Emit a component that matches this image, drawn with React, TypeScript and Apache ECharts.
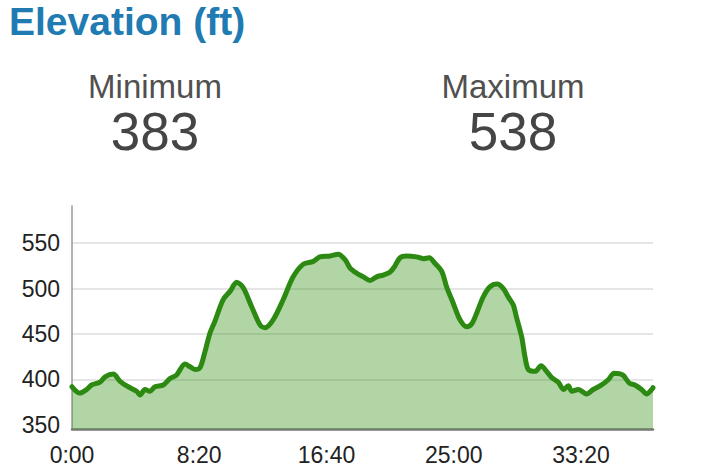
import React, { useEffect, useRef } from "react";
import * as echarts from "echarts";

const times = [0,31,58,77,110,130,162,189,221,254,267,287,306,326,359,385,411,444,464,483,503,520,542,560,594,621,647,673,706,739,758,791,830,869,909,948,974,1014,1046,1073,1092,1119,1145,1171,1197,1223,1249,1269,1289,1315,1354,1380,1404,1426,1453,1472,1498,1524,1551,1570,1590,1616,1642,1671,1695,1714,1734,1747,1767,1780,1793,1820,1843,1865,1885,1911,1931,1950,1964,1990,2022,2048,2081,2108,2130,2164,2190,2212,2238,2258,2278,2283];
const elevations = [392,385,389,394,397,403,406,398,392,387,383,389,387,392,394,401,405,417,414,411,413,428,451,463,488,497,507,501,480,460,457,466,488,513,527,530,535,536,538,532,523,517,513,509,513,515,518,525,534,536,535,533,534,528,519,502,484,466,458,461,473,491,502,505,500,491,482,468,447,425,411,409,415,409,402,397,389,393,387,389,384,389,394,400,407,405,396,394,389,384,389,391];
const yTicks = [350, 400, 450, 500, 550];
const xTickStep = 500;
const title = "Elevation (ft)";
const stats = [
  { label: "Minimum", value: "383" },
  { label: "Maximum", value: "538" },
];

function fmtTime(s: number) {
  const m = Math.floor(s / 60);
  const sec = Math.round(s % 60);
  return m + ":" + (sec < 10 ? "0" : "") + sec;
}

export default function App() {
  const ref = useRef<HTMLDivElement>(null);
  useEffect(() => {
    document.body.style.margin = "0";
    const chart = echarts.init(ref.current!, null, { renderer: "svg" });
    const font = "'Liberation Sans', Arial, Helvetica, sans-serif";
    const statX = [155, 513];
    chart.setOption({
      animation: false,
      graphic: [
        {
          type: "text",
          x: 9,
          y: 21,
          style: {
            text: title,
            fill: "#1f7bb1",
            font: "bold 39px " + font,
            align: "left",
            verticalAlign: "middle",
          },
        },
        ...stats.flatMap((s, i) => [
          {
            type: "text",
            x: statX[i],
            y: 86,
            style: {
              text: s.label,
              fill: "#505050",
              font: "33px " + font,
              align: "center",
              verticalAlign: "middle",
            },
          },
          {
            type: "text",
            x: statX[i],
            y: 131,
            style: {
              text: s.value,
              fill: "#454545",
              font: "53px " + font,
              align: "center",
              verticalAlign: "middle",
            },
          },
        ]),
      ],
      grid: { left: 72, right: 62, top: 206, bottom: 40, containLabel: false },
      xAxis: {
        type: "value",
        min: 0,
        max: 2283,
        interval: xTickStep,
        axisLine: { show: true, onZero: false, lineStyle: { color: "#777777", width: 2.5 } },
        axisTick: { show: false },
        splitLine: { show: false },
        axisLabel: {
          showMaxLabel: false,
          margin: 14,
          color: "#222222",
          fontSize: 23,
          fontFamily: font,
          formatter: (v: number) => (v % xTickStep === 0 ? fmtTime(v) : ""),
        },
      },
      yAxis: {
        type: "value",
        min: 345.5,
        max: 591,
        splitNumber: 5,
        minInterval: 50,
        maxInterval: 50,
        axisLine: { show: true, lineStyle: { color: "#999999", width: 1.5 } },
        axisTick: { show: false },
        splitLine: {
          show: true,
          showMinLine: false,
          showMaxLine: false,
          lineStyle: {
            color: ["rgba(0,0,0,0)", "#dddddd", "#dddddd", "#dddddd", "#dddddd", "#dddddd"],
            width: 1.5,
          },
        },
        axisLabel: {
          showMinLabel: false,
          showMaxLabel: false,
          margin: 12,
          color: "#222222",
          fontSize: 23,
          fontFamily: font,
          formatter: (v: number) => (yTicks.includes(v) ? String(v) : ""),
        },
      },
      series: [
        {
          type: "line",
          data: times.map((t, i) => [t, elevations[i]]),
          showSymbol: false,
          symbol: "none",
          smooth: 0.3,
          lineStyle: { color: "#2c8a12", width: 5, join: "round", cap: "round" },
          areaStyle: { color: "rgba(60,150,30,0.4)", opacity: 1, origin: "start" },
        },
      ],
    });
    return () => chart.dispose();
  }, []);
  return (
    <div
      ref={ref}
      style={{ position: "absolute", left: 0, top: 0, width: 715, height: 469 }}
    />
  );
}
